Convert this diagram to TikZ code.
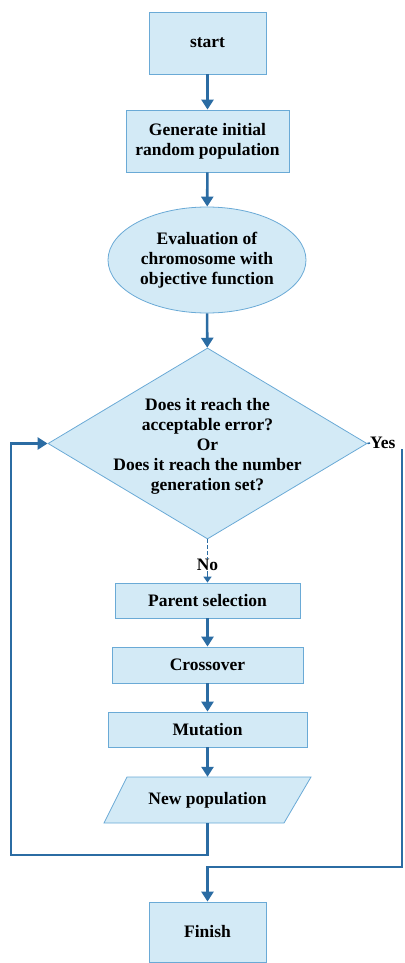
\documentclass[tikz,border=0pt]{standalone}
\usepackage{fontspec}
\setmainfont{Liberation Serif}
\usetikzlibrary{shapes.geometric,arrows.meta}
\definecolor{boxfill}{HTML}{D3EAF6}
\definecolor{boxline}{HTML}{6AAAD6}
\definecolor{arr}{HTML}{2B6CA3}
\begin{document}
\begin{tikzpicture}[x=1pt,y=-1pt,
  txt/.style={font=\bfseries\fontsize{17.5}{20}\selectfont,align=center,inner sep=0pt},
  box/.style={txt,draw=boxline,fill=boxfill,line width=0.8pt},
  flow/.style={draw=arr,line width=2.6pt,-{Triangle[length=10pt,width=12pt]}},
  link/.style={draw=arr,line width=2.6pt}]
\useasboundingbox (0,0) rectangle (404,963);
\node[box,minimum width=117pt,minimum height=62pt] (start) at (207.5,43) {start};
\node[box,minimum width=163pt,minimum height=62pt] (gen) at (207.5,141) {Generate initial\\random population};
\node[box,ellipse,minimum width=198pt,minimum height=106pt] (eval) at (207,260) {};
\node[txt] at (eval.center) {Evaluation of\\chromosome with\\objective function};
\node[box,diamond,minimum width=319pt,minimum height=191pt] (dec) at (207.5,443.5) {};
\node[txt] (dectext) at (207.5,446) {Does it reach the\\acceptable error?\\Or\\Does it reach the number\\generation set?};
\node[txt,anchor=west] (yes) at (370,443) {Yes};
\node[txt] (no) at (207.5,565) {No};
\node[box,minimum width=185pt,minimum height=35pt] (parent) at (207.5,600.5) {Parent selection};
\node[box,minimum width=191pt,minimum height=36pt] (cross) at (207.5,665) {Crossover};
\node[box,minimum width=199pt,minimum height=35pt] (mut) at (207.5,729.5) {Mutation};
\draw[draw=boxline,fill=boxfill,line width=0.8pt] (127,777) -- (311,777) -- (284,823) -- (104,823) -- cycle;
\node[txt,minimum width=180pt,minimum height=46pt] (np) at (207.5,800) {New population};
\node[box,minimum width=117pt,minimum height=60pt] (finish) at (207.5,932) {Finish};
\coordinate (loopB) at (207.5,855);
\coordinate (loopL) at (11,855);
\coordinate (loopT) at (11,443.5);
\coordinate (yesTop) at (402,449);
\coordinate (yesB) at (402,867);
\coordinate (yesL) at (207.5,867);
\draw[flow] (start) -- (gen);
\draw[flow] (gen) -- (eval);
\draw[flow] (eval) -- (dec);
\draw[draw=arr,line width=1.5pt,dash pattern=on 4pt off 2pt] (dec.south) -- (no.north);
\draw[draw=arr,line width=1.5pt,-{Triangle[length=6pt,width=8pt]}] (no.south) -- (parent.north);
\draw[flow] (parent) -- (cross);
\draw[flow] (cross) -- (mut);
\draw[flow] (mut) -- (np);
\draw[flow] (np.south) -- (loopB) -- (loopL) -- (loopT) -- (dec.west);
\draw[draw=arr,line width=1.5pt] (dec.east) -- (yes.west);
\draw[flow] (yesTop) -- (yesB) -- (yesL) -- (finish.north);
\end{tikzpicture}
\end{document}
